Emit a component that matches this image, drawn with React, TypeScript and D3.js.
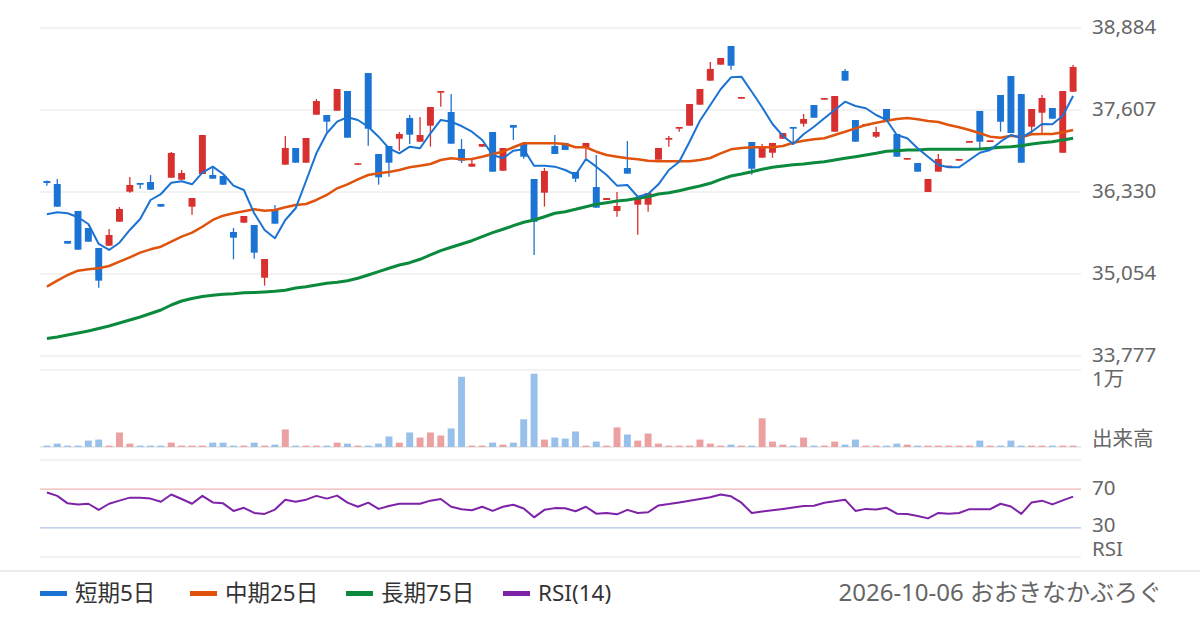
import React from 'react';
import * as d3 from 'd3';

// price axis ticks (right side labels)
const priceTicks = [38884, 37607, 36330, 35054, 33777];

// daily candles, oldest first
const opens = [
  36502, 36455, 35568, 36035, 35770, 35459, 35494, 35868, 36335, 36471,
  36486, 36144, 36553, 36522, 36102, 36611, 36595, 36580, 35708, 35853,
  35817, 34996, 36066, 36756, 37016, 36787, 37534, 37529, 37596, 37903,
  36756, 38183, 36922, 37047, 37160, 37483, 37114, 37363, 37877, 37576,
  37000, 36725, 37036, 37265, 36662, 37374, 37078, 36533, 36320, 37047,
  37094, 36642, 37020, 36408, 36206, 36035, 36704, 36133, 36133, 36834,
  37145, 37316, 37363, 37690, 38064, 38313, 38604, 37783, 37109, 36865,
  36942, 37160, 37343, 37394, 37685, 37768, 37269, 38215, 37452, 37358,
  37192, 37623, 37234, 36834, 36782, 36331, 36647, 36720, 36818, 37098,
  37592, 37109, 37841, 38137, 37856, 37347, 37565, 37638, 36942, 37892,
];
const closes = [
  36471, 36102, 35526, 35432, 35557, 34950, 35661, 36066, 36440, 36444,
  36366, 36102, 36938, 36626, 36237, 37218, 36538, 36444, 35619, 35957,
  35386, 35287, 35837, 37016, 36787, 37171, 37747, 37425, 37934, 37176,
  36777, 37316, 36559, 36787, 37234, 37223, 37218, 37654, 37903, 37083,
  36818, 36771, 37078, 36647, 37016, 37332, 36880, 35868, 36658, 36922,
  36985, 36538, 37094, 36086, 36237, 36113, 36616, 36222, 36315, 37016,
  37171, 37343, 37701, 37934, 38246, 38417, 38297, 37810, 36693, 37031,
  37094, 37249, 37316, 37467, 37487, 37794, 37825, 38064, 37114, 37389,
  37265, 37452, 36880, 36860, 36647, 36533, 36844, 36740, 36844, 37125,
  37114, 37135, 37425, 37249, 36787, 37623, 37794, 37472, 37903, 38277,
];
const highs = [
  36510, 36533, 35568, 36035, 35770, 35459, 35754, 36097, 36564, 36471,
  36595, 36144, 36953, 36673, 36237, 37218, 36720, 36580, 35770, 35957,
  35817, 35287, 36128, 37203, 37016, 37171, 37779, 37529, 37934, 37903,
  36777, 38183, 36922, 37047, 37265, 37529, 37498, 37654, 37903, 37856,
  37156, 36829, 37078, 37265, 37016, 37374, 37078, 36533, 36704, 37218,
  37094, 36642, 37094, 36907, 36237, 36331, 37125, 36222, 36315, 37016,
  37203, 37343, 37701, 37934, 38355, 38417, 38604, 37810, 37109, 37078,
  37094, 37249, 37343, 37545, 37685, 37794, 37825, 38246, 37452, 37389,
  37347, 37623, 37234, 36860, 36782, 36533, 36922, 36740, 36844, 37125,
  37592, 37135, 37841, 38137, 37856, 37623, 37841, 37638, 37903, 38308,
];
const lows = [
  36429, 36102, 35526, 35432, 35557, 34840, 35494, 35868, 36320, 36382,
  36366, 36102, 36553, 36522, 35977, 36611, 36538, 36444, 35283, 35853,
  35292, 34872, 35837, 36756, 36787, 36787, 37534, 37269, 37596, 37176,
  36756, 37051, 36444, 36569, 36974, 37078, 37114, 37036, 37659, 37083,
  36782, 36725, 37036, 36647, 36662, 37140, 36849, 35350, 36102, 36922,
  36985, 36486, 36855, 36086, 36206, 35946, 36616, 35666, 36024, 36834,
  37036, 37269, 37363, 37690, 38064, 38313, 38235, 37783, 36600, 36865,
  36865, 37160, 37062, 37347, 37487, 37768, 37269, 38064, 37114, 37358,
  37171, 37452, 36880, 36834, 36647, 36331, 36647, 36720, 36818, 37098,
  37011, 37109, 37269, 37249, 36787, 37245, 37245, 37472, 36942, 37892,
];

// volume (top of panel = 1万)
const volumes = [
  175, 439, 175, 175, 833, 965, 175, 1886, 439, 175,
  175, 175, 570, 175, 175, 175, 570, 570, 175, 175,
  570, 175, 307, 2280, 175, 175, 175, 175, 570, 439,
  175, 175, 439, 1360, 570, 1886, 1228, 1886, 1491, 2412,
  9123, 175, 175, 570, 307, 570, 3596, 9518, 965, 1228,
  1096, 2018, 175, 702, 175, 2544, 1623, 833, 1754, 439,
  175, 175, 175, 965, 439, 175, 307, 175, 175, 3728,
  702, 307, 175, 1228, 175, 175, 702, 307, 965, 175,
  175, 175, 439, 307, 175, 175, 175, 175, 175, 175,
  833, 175, 175, 833, 175, 175, 175, 175, 175, 175,
];

// moving averages
const ma5 = [
  35983, 36015, 35999, 35937, 35832, 35521, 35428, 35541, 35739, 35910,
  36206, 36299, 36475, 36497, 36450, 36631, 36725, 36611, 36429, 36362,
  35999, 35739, 35610, 35895, 36077, 36502, 36933, 37245, 37425, 37494,
  37452, 37347, 37192, 37011, 36933, 37036, 37011, 37245, 37452, 37425,
  37358, 37269, 37140, 36907, 36855, 36974, 36995, 36740, 36740, 36725,
  36673, 36595, 36844, 36725, 36595, 36429, 36440, 36257, 36299, 36450,
  36673, 36802, 37114, 37441, 37685, 37930, 38116, 38126, 37892, 37649,
  37389, 37203, 37078, 37229, 37347, 37478, 37607, 37737, 37670, 37634,
  37529, 37452, 37218, 37167, 37011, 36880, 36751, 36715, 36715, 36829,
  36942, 36985, 37114, 37218, 37176, 37269, 37389, 37385, 37518, 37825,
];
const ma25 = [
  34856, 34950, 35038, 35105, 35127, 35143, 35178, 35245, 35314, 35386,
  35438, 35479, 35557, 35635, 35697, 35790, 35895, 35962, 35999, 36030,
  36061, 36039, 36050, 36092, 36128, 36144, 36206, 36284, 36388, 36450,
  36528, 36595, 36622, 36642, 36673, 36715, 36740, 36767, 36829, 36855,
  36840, 36844, 36880, 36922, 36958, 37027, 37089, 37089, 37089, 37089,
  37078, 37027, 37027, 36958, 36907, 36880, 36855, 36840, 36818, 36809,
  36809, 36809, 36809, 36829, 36860, 36933, 36995, 37016, 37027, 37027,
  37027, 37047, 37098, 37129, 37151, 37167, 37218, 37269, 37322, 37374,
  37410, 37441, 37467, 37483, 37462, 37436, 37420, 37374, 37338, 37296,
  37245, 37192, 37176, 37207, 37182, 37229, 37234, 37234, 37260, 37296,
];
const ma75 = [
  34050, 34073, 34104, 34135, 34166, 34205, 34244, 34291, 34338, 34384,
  34439, 34493, 34571, 34633, 34672, 34704, 34722, 34738, 34747, 34760,
  34767, 34774, 34784, 34800, 34836, 34856, 34883, 34909, 34925, 34950,
  34987, 35038, 35090, 35143, 35194, 35230, 35283, 35350, 35417, 35470,
  35521, 35572, 35635, 35697, 35750, 35806, 35859, 35895, 35946, 35999,
  36024, 36061, 36102, 36139, 36164, 36190, 36206, 36232, 36257, 36299,
  36320, 36351, 36388, 36424, 36466, 36528, 36580, 36611, 36647, 36684,
  36715, 36735, 36756, 36767, 36787, 36802, 36829, 36855, 36880, 36907,
  36933, 36964, 36974, 36985, 36985, 36995, 36995, 36995, 36995, 36995,
  37000, 37011, 37027, 37036, 37051, 37078, 37098, 37114, 37140, 37167,
];

// RSI(14)
const rsi = [
  66.5, 63.0, 55.3, 54.2, 54.9, 48.6, 54.9, 58.1, 61.2, 61.2,
  60.2, 57.0, 64.4, 59.8, 54.9, 63.0, 56.3, 55.3, 47.5, 50.7,
  45.4, 44.4, 48.9, 59.1, 57.0, 59.1, 63.0, 60.2, 63.3, 56.0,
  51.8, 56.0, 49.6, 52.5, 54.9, 54.9, 54.9, 58.1, 59.8, 51.8,
  49.3, 48.2, 51.8, 47.5, 51.8, 53.9, 50.0, 40.9, 48.6, 50.4,
  50.2, 47.2, 51.8, 44.7, 45.4, 44.0, 48.6, 45.4, 46.1, 53.2,
  54.6, 56.3, 58.1, 59.8, 61.6, 64.4, 62.6, 56.0, 45.4, 46.8,
  48.2, 49.6, 51.1, 52.5, 52.8, 56.0, 57.4, 59.1, 47.5, 49.6,
  48.9, 50.7, 44.7, 44.4, 42.3, 39.8, 45.4, 44.7, 45.4, 49.3,
  49.3, 49.3, 54.9, 52.1, 44.4, 56.3, 58.1, 54.2, 58.4, 62.3,
];

const legendItems = [
  { label: '短期5日', color: '#1a73d2' },
  { label: '中期25日', color: '#e0530c' },
  { label: '長期75日', color: '#0b8a3e' },
  { label: 'RSI(14)', color: '#7e22a8' },
];
const footerText = '2026-10-06 おおきなかぶろぐ';

// latin glyphs from Noto Sans, kana/kanji fall back to the CJK face
const FONT = '"Noto Sans", "Noto Sans CJK JP", sans-serif';
const UP = '#d7302f';
const DOWN = '#1b74d3';
const GRID = '#e5e5e5';
const LABEL = '#666';

const App = () => {
  const idx = d3.range(opens.length);
  const x = d3.scaleBand<number>().domain(idx).range([40, 1080]).padding(0.33);
  const cx = (i: number) => (x(i) as number) + x.bandwidth() / 2;

  const y = d3.scaleLinear().domain([33777, 38884]).range([356, 28]);
  const yVol = d3.scaleLinear().domain([0, 10000]).range([447, 370]);
  const yRsi = d3.scaleLinear().domain([0, 100]).range([557, 460]);

  const lineOf = (scale: d3.ScaleLinear<number, number>) =>
    d3.line<number>().x((_, i) => cx(i)).y(v => scale(v));

  const legendX = [40, 190, 346, 503];

  return (
    <svg width={1200} height={630} style={{ position: 'absolute', left: 0, top: 0, background: '#fff' }}
         fontFamily={FONT}>
      <rect width={1200} height={630} fill="#fff" />

      {/* price grid + labels */}
      {priceTicks.map(t => (
        <g key={t}>
          <line x1={40} x2={1081} y1={y(t)} y2={y(t)} stroke={GRID} strokeWidth={1} />
          <text x={1092} y={y(t) - 1} dy="0.35em" fontSize={20.5} fill={LABEL}>{d3.format(',')(t)}</text>
        </g>
      ))}

      {/* volume panel */}
      <line x1={40} x2={1081} y1={yVol(10000)} y2={yVol(10000)} stroke={GRID} />
      <line x1={40} x2={1081} y1={yVol(0)} y2={yVol(0)} stroke={GRID} strokeWidth={1.5} />
      <text x={1092} y={yVol(10000) + 9} dy="0.35em" fontSize={20.5} fill={LABEL}>1万</text>
      <text x={1092} y={yVol(0) - 8} dy="0.35em" fontSize={20.5} fill={LABEL}>出来高</text>
      {volumes.map((v, i) => (
        <rect key={i} x={x(i)} width={x.bandwidth()} y={yVol(v)} height={yVol(0) - yVol(v)}
              fill={closes[i] >= opens[i] ? '#eba1a1' : '#97c0eb'} />
      ))}

      {/* RSI panel */}
      <line x1={40} x2={1081} y1={yRsi(100)} y2={yRsi(100)} stroke={GRID} />
      <line x1={40} x2={1081} y1={yRsi(70)} y2={yRsi(70)} stroke="#f3b3b3" strokeWidth={1.2} />
      <line x1={40} x2={1081} y1={yRsi(30)} y2={yRsi(30)} stroke="#afc6e6" strokeWidth={1.2} />
      <line x1={40} x2={1081} y1={yRsi(0)} y2={yRsi(0)} stroke={GRID} />
      <text x={1092} y={yRsi(70) - 1} dy="0.35em" fontSize={20.5} fill={LABEL}>70</text>
      <text x={1092} y={yRsi(30) - 3} dy="0.35em" fontSize={20.5} fill={LABEL}>30</text>
      <text x={1092} y={yRsi(0) - 8} dy="0.35em" fontSize={20.5} fill={LABEL}>RSI</text>
      <path d={lineOf(yRsi)(rsi) || ''} fill="none" stroke="#7e22a8" strokeWidth={2} strokeLinejoin="round" />

      {/* candles */}
      {idx.map(i => {
        const up = closes[i] >= opens[i];
        const col = up ? UP : DOWN;
        const top = y(Math.max(opens[i], closes[i]));
        const bot = y(Math.min(opens[i], closes[i]));
        return (
          <g key={i}>
            <line x1={cx(i)} x2={cx(i)} y1={y(highs[i])} y2={y(lows[i])} stroke={col} strokeWidth={1.3} />
            <rect x={x(i)} width={x.bandwidth()} y={top} height={Math.max(1.5, bot - top)} fill={col} />
          </g>
        );
      })}

      {/* moving averages */}
      <path d={lineOf(y)(ma75) || ''} fill="none" stroke="#0b8a3e" strokeWidth={3} strokeLinejoin="round" />
      <path d={lineOf(y)(ma25) || ''} fill="none" stroke="#e0530c" strokeWidth={2.5} strokeLinejoin="round" />
      <path d={lineOf(y)(ma5) || ''} fill="none" stroke="#1a73d2" strokeWidth={2} strokeLinejoin="round" />

      {/* legend */}
      <line x1={0} x2={1200} y1={571} y2={571} stroke={GRID} strokeWidth={1.5} />
      {legendItems.map((d, k) => (
        <g key={d.label}>
          <rect x={legendX[k]} y={591} width={27} height={5} fill={d.color} />
          <text x={legendX[k] + 35} y={593} dy="0.35em" fontSize={22.5} fill="#333">{d.label}</text>
        </g>
      ))}
      <text x={1162} y={593} dy="0.35em" fontSize={24} fill={LABEL} textAnchor="end">{footerText}</text>
    </svg>
  );
};

export default App;
